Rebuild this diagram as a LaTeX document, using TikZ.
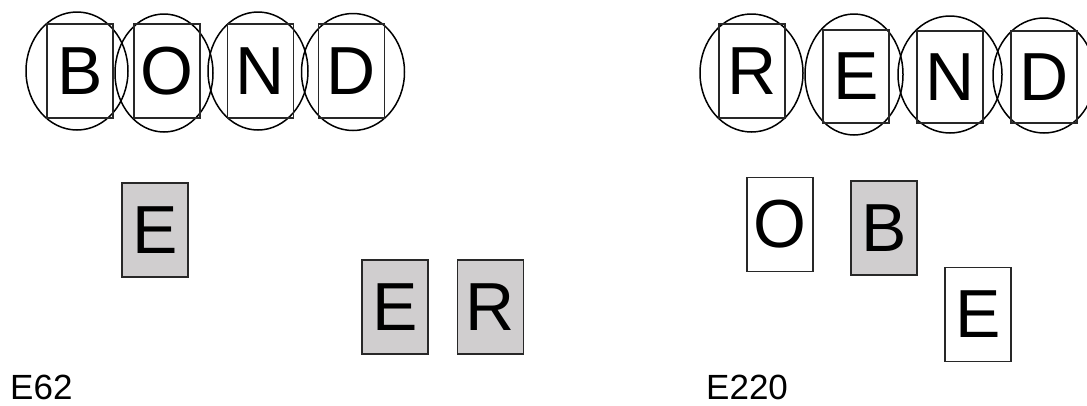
\documentclass[tikz,border=0pt]{standalone}
\usepackage{fontspec}
\setmainfont{Liberation Sans}
\usetikzlibrary{shapes.geometric}
\definecolor{cardgray}{RGB}{208,206,207}
\definecolor{cardline}{RGB}{40,40,40}
\begin{document}
\begin{tikzpicture}[x=1pt,y=-1pt,
  ring/.style={draw=black,line width=1.5pt,ellipse,minimum width=102pt,minimum height=118pt,inner sep=0pt},
  tile/.style={draw=cardline,line width=1.4pt,rectangle,minimum width=66pt,minimum height=94pt,inner sep=0pt,font=\fontsize{68}{70}\selectfont},
  graytile/.style={tile,fill=cardgray},
  lbl/.style={inner sep=0pt,anchor=base west,font=\fontsize{35}{38}\selectfont}]
\useasboundingbox (0,0) rectangle (1087,405);
% left word BOND
\node[ring] (c1) at (77,71) {};
\node[ring,minimum width=98pt] (c2) at (164,73) {};
\node[ring,minimum width=100pt] (c3) at (258,71) {};
\node[ring,minimum width=103pt,minimum height=117pt] (c4) at (353,72) {};
\node[tile] (t1) at (80,71) {B};
\node[tile] (t2) at (167,71) {O};
\node[tile] (t3) at (260.5,71) {N};
\node[tile] (t4) at (351.5,71) {D};
% left loose tiles
\node[graytile] (g1) at (155,230) {E};
\node[graytile] (g2) at (395,307) {E};
\node[graytile] (g3) at (490.5,307) {R};
\node[lbl] (l1) at (10,399) {E62};
% right word REND
\node[ring,minimum width=103pt] (d1) at (751.5,73) {};
\node[ring,minimum width=98pt,minimum height=121pt] (d2) at (854,74.5) {};
\node[ring,minimum width=104pt,minimum height=117pt] (d3) at (950,74.5) {};
\node[ring,minimum width=102pt,minimum height=115pt] (d4) at (1044,75.5) {};
\node[tile] (s1) at (752,71) {R};
\node[tile,minimum height=93pt] (s2) at (856,76.5) {E};
\node[tile,minimum height=92pt] (s3) at (950,77) {N};
\node[tile,minimum height=92pt] (s4) at (1044,77) {D};
% right loose tiles
\node[tile,fill=white] (w1) at (780,224.5) {O};
\node[graytile] (w2) at (884,228) {B};
\node[tile,fill=white] (w3) at (978,314.5) {E};
\node[lbl] (l2) at (706,399) {E220};
\end{tikzpicture}
\end{document}
